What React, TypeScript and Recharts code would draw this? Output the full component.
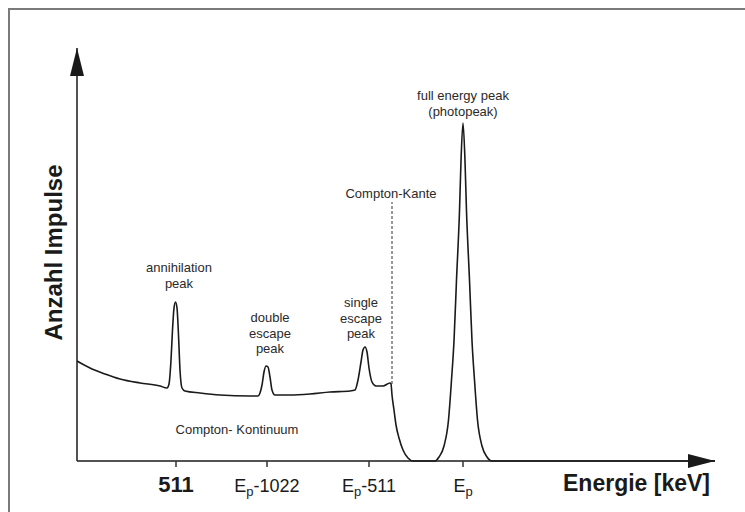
import React from 'react';
import { LineChart, Line, XAxis, YAxis, ReferenceDot, ReferenceLine } from 'recharts';

const FONT = '"Liberation Sans", Arial, Helvetica, sans-serif';
const INK = '#1a1a1a';

// Schematic gamma spectrum (channel, counts)
const continuumCh = [0, 13, 28, 43, 63, 83, 90];
const continuumCt = [100, 93, 87, 82, 78, 75, 73];
const annihilationCh = [92, 94, 95.5, 97, 98.5, 100, 101.5, 103, 105, 108];
const annihilationCt = [77, 101, 131, 153, 159, 153, 126, 91, 73, 70];
const plateauCh = [123, 143, 173, 181];
const plateauCt = [68, 66, 65, 65];
const doubleEscapeCh = [183, 185, 187, 189, 191, 193, 195, 198];
const doubleEscapeCt = [68, 76, 89, 95, 94, 84, 71, 66];
const plateau2Ch = [213, 233, 253, 273, 278];
const plateau2Ct = [66, 67, 69, 70, 71];
const singleEscapeCh = [281, 284, 286, 288, 290, 292, 295, 299, 306, 313];
const singleEscapeCt = [81, 99, 111, 114, 109, 93, 79, 75, 75, 78];
const comptonEdgeCh = [314, 315, 317, 319, 322, 326, 331, 336];
const comptonEdgeCt = [77, 66, 51, 36, 23, 11, 3, 0];
const photopeakCh = [358, 362, 367, 371.5, 374.5, 377, 379.5, 382.5, 384, 386, 388, 389.5, 392.5, 395, 397.5, 400.5, 405, 410, 415, 500, 638];
const photopeakCt = [0, 4, 15, 41, 81, 120, 181, 250, 300, 338, 300, 250, 181, 120, 81, 41, 15, 4, 0, 0, 0];

const channels = [
  ...continuumCh, ...annihilationCh, ...plateauCh, ...doubleEscapeCh,
  ...plateau2Ch, ...singleEscapeCh, ...comptonEdgeCh, ...photopeakCh,
];
const counts = [
  ...continuumCt, ...annihilationCt, ...plateauCt, ...doubleEscapeCt,
  ...plateau2Ct, ...singleEscapeCt, ...comptonEdgeCt, ...photopeakCt,
];
const data = channels.map((c, i) => ({ x: c, y: counts[i] }));

const tickValues = [99, 190, 292, 386];
const tickMain = ['511', 'E', 'E', 'E'];
const tickSub = ['', 'p', 'p', 'p'];
const tickRest = ['', '-1022', '-511', ''];
const tickBold = [true, false, false, false];

const xMax = 638;
const yMax = 413;

const annotations = [
  { x: 102, y: 194, lines: ['annihilation', 'peak'] },
  { x: 193, y: 144, lines: ['double', 'escape', 'peak'] },
  { x: 284, y: 159, lines: ['single', 'escape', 'peak'] },
  { x: 314, y: 268, lines: ['Compton-Kante'] },
  { x: 386, y: 366, lines: ['full energy peak', '(photopeak)'] },
  { x: 160, y: 32, lines: ['Compton- Kontinuum'] },
];

const comptonEdgeLine = [{ x: 315, y: 77 }, { x: 315, y: 259 }];

const XTick = (props: any) => {
  const { x, y, payload } = props;
  const i = tickValues.indexOf(payload.value);
  if (i < 0) return null;
  const bold = tickBold[i];
  return (
    <text x={x} y={y} dy={23} textAnchor="middle" fontFamily={FONT} fill={INK}
      fontSize={bold ? 22 : 18} fontWeight={bold ? 'bold' : 'normal'}>
      <tspan>{tickMain[i]}</tspan>
      {tickSub[i] ? <tspan dy={4} fontSize={13}>{tickSub[i]}</tspan> : null}
      {tickSub[i] ? <tspan dy={-4}>{tickRest[i]}</tspan> : null}
    </text>
  );
};

const XArrow = (props: any) => {
  const { cx, cy } = props;
  return <polygon points={`${cx},${cy} ${cx - 27},${cy - 7} ${cx - 27},${cy + 7}`} fill={INK} />;
};
const YArrow = (props: any) => {
  const { cx, cy } = props;
  return <polygon points={`${cx},${cy} ${cx - 7},${cy + 28} ${cx + 7},${cy + 28}`} fill={INK} />;
};

const makeNote = (lines: string[]) => (props: any) => {
  const { cx, cy } = props;
  return (
    <text x={cx} y={cy} textAnchor="middle" dominantBaseline="central" fontFamily={FONT} fontSize={13} fill="#2a2a2a">
      {lines.map((l, k) => (
        <tspan key={k} x={cx} dy={k === 0 ? 0 : 15.5}>{l}</tspan>
      ))}
    </text>
  );
};

const YTitle = (props: any) => {
  const vb = props.viewBox || {};
  const tx = (vb.x ?? 0) + (vb.width ?? 77) - 15;
  const ty = (vb.y ?? 48) + (vb.height ?? 413) / 2 - 2;
  return (
    <text x={tx} y={ty} transform={`rotate(-90, ${tx}, ${ty})`} textAnchor="middle"
      fontFamily={FONT} fontSize={24} fontWeight="bold" fill={INK}>
      Anzahl Impulse
    </text>
  );
};

const XTitle = (props: any) => {
  const vb = props.viewBox || {};
  const tx = (vb.x ?? 77) + (vb.width ?? 638) - 5;
  const ty = (vb.y ?? 461) + 30;
  return (
    <text x={tx} y={ty} textAnchor="end" fontFamily={FONT} fontSize={23} fontWeight="bold" fill={INK}>
      Energie [keV]
    </text>
  );
};

export default function App() {
  return (
    <div style={{ position: 'absolute', left: 0, top: 0, width: 745, height: 512, background: '#fff' }}>
      <div style={{
        position: 'absolute', left: 8, top: 8, right: 0, bottom: 0,
        borderTop: '2px solid #7a7a7a', borderLeft: '2px solid #7a7a7a',
      }} />
      <div style={{ position: 'absolute', left: 0, top: 0 }}>
        <LineChart width={745} height={512} data={data}
          margin={{ top: 48, right: 30, bottom: 0, left: 0 }}>
          <XAxis dataKey="x" type="number" domain={[0, xMax]} ticks={tickValues}
            allowDataOverflow height={51} interval={0}
            axisLine={{ stroke: INK, strokeWidth: 1.5 }}
            tickLine={{ stroke: '#333', strokeWidth: 1.5 }} tickSize={6}
            tick={<XTick />} label={<XTitle />} />
          <YAxis type="number" domain={[0, yMax]} width={77} tick={false} tickLine={false}
            axisLine={{ stroke: INK, strokeWidth: 1.5 }} label={<YTitle />} />
          <ReferenceLine segment={comptonEdgeLine} stroke="#333" strokeWidth={1}
            strokeDasharray="3 2" ifOverflow="visible" />
          <Line type="monotone" dataKey="y" stroke={INK} strokeWidth={1.6} dot={false}
            isAnimationActive={false} />
          <ReferenceDot x={xMax} y={0} ifOverflow="visible" shape={<XArrow />} />
          <ReferenceDot x={0} y={yMax} ifOverflow="visible" shape={<YArrow />} />
          {annotations.map((a, i) => (
            <ReferenceDot key={i} x={a.x} y={a.y} ifOverflow="visible" shape={makeNote(a.lines)} />
          ))}
        </LineChart>
      </div>
    </div>
  );
}
